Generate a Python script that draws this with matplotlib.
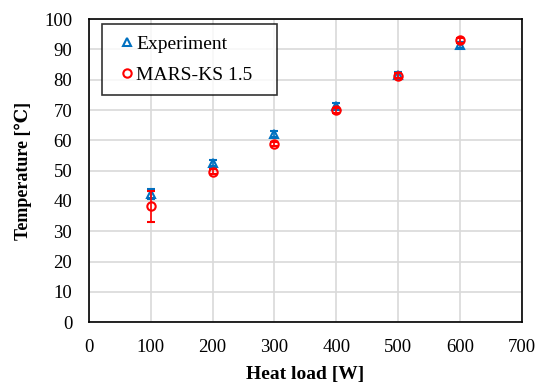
import matplotlib
matplotlib.use("Agg")
import matplotlib.pyplot as plt

heat_load = [100, 200, 300, 400, 500, 600]
exp_temp = [42.2, 52.6, 62.0, 71.2, 81.6, 91.5]
exp_err = [1.7, 1.0, 1.0, 1.0, 1.0, 1.0]
mars_temp = [38.2, 49.6, 58.8, 69.9, 81.3, 93.0]
mars_err = [5.0, 0.8, 0.8, 0.8, 0.8, 0.8]

plt.rcParams['font.family'] = ['Liberation Serif', 'DejaVu Serif']

fig = plt.figure(figsize=(5.42, 3.83), dpi=100)
ax = fig.add_axes([0.164, 0.159, 0.799, 0.791])

eb1 = ax.errorbar(heat_load, exp_temp, yerr=exp_err, fmt='^', color='#0070C0',
                  mfc='none', mec='#0070C0', mew=1.5, ms=5.5, capsize=3, elinewidth=1.2,
                  zorder=3)
eb2 = ax.errorbar(heat_load, mars_temp, yerr=mars_err, fmt='o', color='#FF0000',
                  mfc='none', mec='#FF0000', mew=1.5, ms=6, capsize=3, elinewidth=1.2,
                  zorder=4)

ax.set_xlim(0, 700)
ax.set_ylim(0, 100)
ax.set_xticks(range(0, 701, 100))
ax.set_yticks(range(0, 101, 10))
ax.grid(True, color='#d9d9d9', linewidth=1.2)
ax.set_axisbelow(True)
ax.tick_params(length=0, labelsize=13.5, pad=12)
for s in ax.spines.values():
    s.set_linewidth(1.2)
    s.set_color('black')

ax.set_xlabel('Heat load [W]', fontsize=14, fontweight='bold', labelpad=7.5)
ax.set_ylabel('Temperature [\u2103]', fontsize=13, fontweight='bold', labelpad=8.5)

leg = ax.legend([eb1[0], eb2[0]], ['Experiment', 'MARS-KS 1.5'],
                loc='upper left', bbox_to_anchor=(0.03, 0.983, 0.404, 0.0),
                mode='expand', borderaxespad=0,
                fontsize=14, frameon=True, fancybox=False, edgecolor='black',
                handletextpad=-0.25, borderpad=0.55, labelspacing=0.7,
                handlelength=1.45)
leg.get_frame().set_linewidth(1.2)

fig.savefig('out.png', dpi=100)
